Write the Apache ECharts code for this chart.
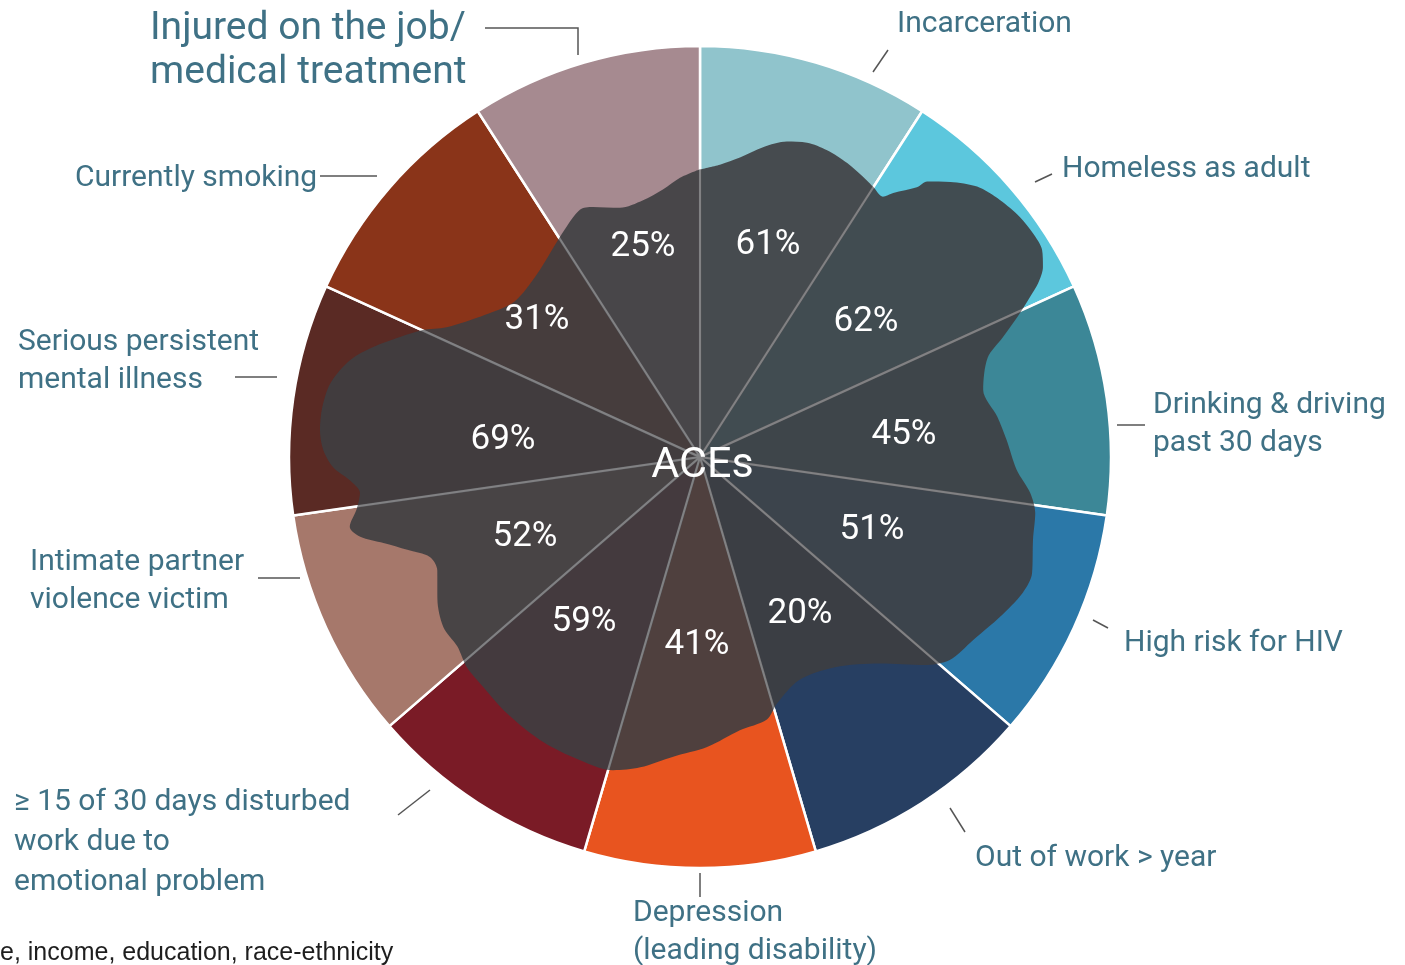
<!DOCTYPE html>
<html>
<head>
<meta charset="utf-8">
<title>ACEs and adult outcomes</title>
<script src="https://cdn.jsdelivr.net/npm/echarts@6/dist/echarts.min.js"></script>
<style>
html, body { margin: 0; padding: 0; background: #fff; }
#chart { width: 1405px; height: 965px; }
</style>
</head>
<body>
<div id="chart"></div>
<script>
// outcomes, clockwise from 12 o'clock
var categories = [
  'Incarceration',
  'Homeless as adult',
  'Drinking & driving\npast 30 days',
  'High risk for HIV',
  'Out of work > year',
  'Depression\n(leading disability)',
  '≥ 15 of 30 days disturbed\nwork due to\nemotional problem',
  'Intimate partner\nviolence victim',
  'Serious persistent\nmental illness',
  'Currently smoking',
  'Injured on the job/\nmedical treatment'
];
var percents = [61, 62, 45, 51, 20, 41, 59, 52, 69, 31, 25];
var colors = ['#90c4cc', '#5cc7dd', '#3c8797', '#2b78a8', '#273f62', '#e8541f',
  '#7a1b26', '#a6786b', '#5a2a24', '#8a3419', '#a68a90'];

// outline of the dark ACEs blob: angle in degrees clockwise from the top,
// radius in % of the pie radius
var blobAngle = [0, 3.9, 7.6, 11.5, 15.4, 18.8, 22.5, 26.6, 31.1, 32.6, 35.1, 36.2, 38.8, 39.5,
  42.3, 45.7, 49.4, 53.1, 56.1, 58.8, 61, 62.8, 64.1, 66.2, 68.4, 71, 76.7, 82.3, 86.8, 92.3,
  96.2, 99.5, 104, 109.3, 112.8, 118.1, 123.8, 129.1, 132.8, 138.9, 147.3, 156.1, 162.6, 165.7,
  171.7, 178.6, 185.1, 190.9, 195.5, 202.9, 209.5, 217, 223.3, 228, 232, 236.5, 241.5, 246.7,
  249.7, 252.4, 254.8, 256.8, 258.7, 261.5, 264, 266.2, 268.4, 271.1, 274.1, 277.5, 281.3,
  285.5, 288.6, 291.8, 294.6, 297.1, 303.4, 310, 318.3, 328.5, 334.1, 336.8, 342.2, 347.5,
  352.1, 355.9, 360];
var blobRadius = [70, 71.3, 73.5, 76.9, 79.6, 80.8, 80.8, 80, 78.6, 78.1, 77.4, 79.6, 84.2, 86.9,
  90.5, 94.2, 96.1, 97.3, 97.6, 97.3, 95.4, 92.5, 89.3, 84.4, 79.3, 74, 70.8, 73, 74.7, 77.1,
  80.8, 82.7, 83.5, 85.6, 85.2, 82.7, 80, 78.3, 74.5, 66.7, 60.8, 59.4, 62.8, 65.9,
  67.2, 70.6, 73.2, 76.9, 79.1, 79.3, 79.1, 78.1, 76.9, 76.4, 74.9, 74.9, 72.7, 69.6,
  70.1, 74.7, 79.8, 84.9, 86.9, 84.4, 83.2, 85.4, 89.3, 91.7, 92.7, 92.7, 91.7,
  88.3, 83.9, 78.6, 74.2, 69.3, 62.8, 58.9, 59.6, 64, 66.9, 66.2, 63.7, 64,
  65.7, 68.1, 70];

// layout: pie centre and radius, where captions, ticks and percentages sit
var CX = 700, CY = 457, R = 411;
var labelPos = [[897, 24], [1062, 169], [1153, 424], [1124, 643], [975, 858], [633, 932],
  [14, 842], [30, 581], [18, 361], [75, 178], [150, 51]];
var labelTicks = [
  [[873, 72], [888, 50]],
  [[1035, 182], [1052, 174]],
  [[1117, 425], [1145, 425]],
  [[1093, 620], [1108, 628]],
  [[950, 808], [965, 832]],
  [[700, 873], [700, 897]],
  [[398, 815], [430, 790]],
  [[258, 578], [300, 578]],
  [[235, 377], [277, 377]],
  [[320, 176], [377, 176]],
  [[485, 28], [578, 28], [578, 55]]
];
var pctPos = [[768, 245], [866, 322], [904, 435], [872, 530], [800, 614], [697, 645],
  [584, 622], [525, 537], [503, 440], [537, 320], [643, 247]];

var FONT = 'Roboto, "Noto Sans", sans-serif';
var chart = echarts.init(document.getElementById('chart'));

var slices = categories.map(function (name, i) {
  var item = { name: name, value: 1, itemStyle: { color: colors[i] } };
  if (i === 10) item.label = { fontSize: 39, lineHeight: 44 };
  if (i === 6) item.label = { lineHeight: 40 };
  return item;
});
var blob = blobAngle.map(function (a, i) { return [blobRadius[i], a]; });

chart.setOption({
  backgroundColor: '#fff',
  animation: false,
  title: [
    {
      text: 'ACEs', left: 'center', top: 441, z: 20, padding: 0,
      textStyle: { color: '#fff', fontSize: 43, fontWeight: 'normal', fontFamily: FONT, lineHeight: 50 }
    },
    {
      text: 'e, income, education, race-ethnicity', left: 0, top: 941, padding: 0,
      textStyle: { color: '#1e1e1e', fontSize: 25, fontWeight: 'normal', fontFamily: '"Liberation Sans", Arial, sans-serif' }
    }
  ],
  polar: { center: [CX, CY], radius: R },
  angleAxis: {
    type: 'value', min: 0, max: 360, interval: 360 / 11, startAngle: 90, clockwise: true, z: 10,
    axisLine: { show: false }, axisTick: { show: false }, axisLabel: { show: false },
    splitLine: { show: true, lineStyle: { color: 'rgba(255,255,255,0.28)', width: 2 } }
  },
  radiusAxis: {
    min: 0, max: 100,
    axisLine: { show: false }, axisTick: { show: false }, axisLabel: { show: false }, splitLine: { show: false }
  },
  series: [
    {
      type: 'pie', z: 1, silent: true, center: [CX, CY], radius: R, startAngle: 90, clockwise: true,
      avoidLabelOverlap: false,
      data: slices,
      itemStyle: { borderColor: '#fff', borderWidth: 2.5 },
      label: {
        show: true, position: 'outside', formatter: '{b}',
        color: '#3f7185', fontSize: 30, lineHeight: 38, fontFamily: FONT
      },
      labelLine: { show: true, lineStyle: { color: '#555', width: 1.5 } },
      labelLayout: function (p) {
        var i = p.dataIndex;
        return {
          x: labelPos[i][0], y: labelPos[i][1], align: 'left', verticalAlign: 'middle',
          labelLinePoints: labelTicks[i]
        };
      }
    },
    {
      type: 'line', coordinateSystem: 'polar', z: 3, silent: true,
      data: blob, smooth: 0.3, symbol: 'none',
      lineStyle: { width: 0 },
      areaStyle: { color: 'rgba(62,62,65,0.9)', opacity: 1 }
    },
    {
      type: 'pie', z: 12, silent: true, center: [CX, CY], radius: R, startAngle: 90, clockwise: true,
      data: percents.map(function (v, i) { return { name: categories[i], value: 1 }; }),
      itemStyle: { color: 'rgba(0,0,0,0)', borderWidth: 0 },
      label: {
        show: true, position: 'inside',
        formatter: function (p) { return percents[p.dataIndex] + '%'; },
        color: '#fff', fontSize: 35, fontFamily: FONT
      },
      labelLine: { show: false },
      labelLayout: function (p) {
        var i = p.dataIndex;
        return { x: pctPos[i][0], y: pctPos[i][1], align: 'center', verticalAlign: 'middle' };
      }
    }
  ]
});
</script>
</body>
</html>
